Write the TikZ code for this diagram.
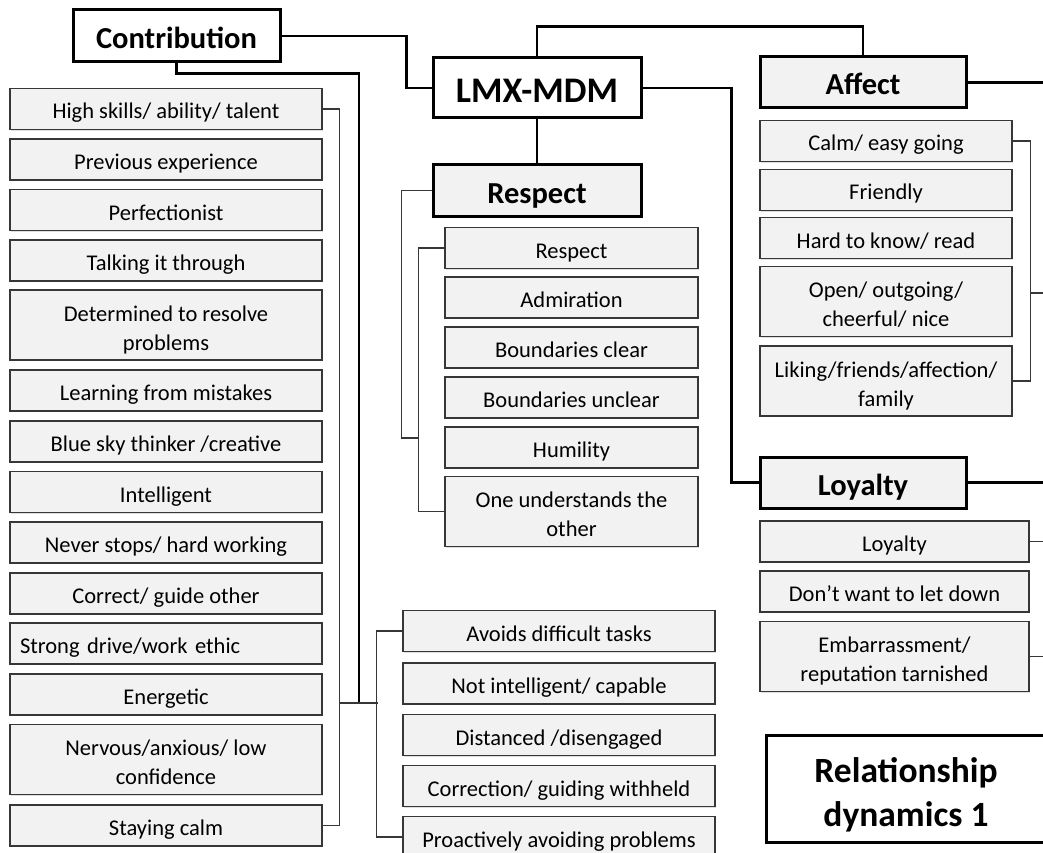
\documentclass[tikz,border=0pt]{standalone}
\usepackage{fontspec}
\setmainfont{Carlito}
\usetikzlibrary{shadows}
\definecolor{boxgray}{RGB}{242,242,242}
\definecolor{edgegray}{RGB}{55,55,55}
\begin{document}
\begin{tikzpicture}[x=1pt,y=-1pt,
  sub/.style={draw=edgegray, line width=1.4pt, fill=boxgray, inner sep=0pt,
    minimum height=41pt, align=center, font=\fontsize{22.5}{29}\selectfont,
    text height=20pt, text depth=0pt,
    drop shadow={shadow xshift=1.2pt, shadow yshift=-1.2pt, opacity=0.25}},
  csub/.style={sub, minimum width=312pt},
  rsub/.style={sub, minimum width=253pt},
  nsub/.style={sub, minimum width=312pt},
  asub/.style={sub, minimum width=252pt},
  lsub/.style={sub, minimum width=269pt},
  twoline/.style={minimum height=70pt, text height=50pt, text depth=0pt},
  head/.style={draw=black, line width=3pt, fill=boxgray, inner sep=0pt,
    minimum height=51pt, font=\fontsize{30.5}{36}\bfseries\selectfont,
    text height=25pt, text depth=0pt,
    drop shadow={shadow xshift=1.5pt, shadow yshift=-1.5pt, opacity=0.25}},
  tophead/.style={head, fill=white},
  conn/.style={line width=2.6pt, black},
  thinconn/.style={line width=1.4pt, edgegray}
]
\useasboundingbox (0,0) rectangle (1043,853);
\fill[white] (0,0) rectangle (1043,853);

% ---------- junction points ----------
\coordinate (cjoin) at (359,703);
\coordinate (tl) at (339,703);
\coordinate (tr) at (378,703);
\coordinate (rjoin) at (419,438);
\coordinate (ajoin) at (1030,293);
\coordinate (aout) at (1046,293);

% ---------- head nodes ----------
\node[tophead, minimum width=207pt, minimum height=52pt] (contrib) at (176.5,36) {Contribution};
\node[tophead, minimum width=208pt, minimum height=60pt, font=\fontsize{36}{40}\bfseries\selectfont, text height=30pt] (lmx) at (537,88) {LMX-MDM};
\node[head, minimum width=208pt] (respect) at (537,190.5) {Respect};
\node[head, minimum width=206pt] (affect) at (863,82.5) {Affect};
\node[head, minimum width=206pt] (loyalty) at (863,482.5) {Loyalty};
\node[tophead, minimum width=280pt, minimum height=107pt, align=center, font=\fontsize{35.5}{44}\bfseries\selectfont, text height=76pt] (title) at (906,788.5) {Relationship\\dynamics 1};

% ---------- Contribution children ----------
\node[csub] (c1) at (166,109) {High skills/ ability/ talent};
\node[csub] (c2) at (166,159.5) {Previous experience};
\node[csub] (c3) at (166,210) {Perfectionist};
\node[csub] (c4) at (166,260.5) {Talking it through};
\node[csub, twoline] (c5) at (166,325) {Determined to resolve\\problems};
\node[csub] (c6) at (166,390.5) {Learning from mistakes};
\node[csub] (c7) at (166,441.5) {Blue sky thinker /creative};
\node[csub] (c8) at (166,492) {Intelligent};
\node[csub] (c9) at (166,542.5) {Never stops/ hard working};
\node[csub] (c10) at (166,593.5) {Correct/ guide other};
\node[csub, text width=292pt, align=left] (c11) at (166,643.5) {Strong drive/work ethic};
\node[csub] (c12) at (166,694.5) {Energetic};
\node[csub, twoline] (c13) at (166,759.5) {Nervous/anxious/ low\\confidence};
\node[csub] (c14) at (166,825.5) {Staying calm};

% ---------- Respect children ----------
\node[rsub] (r1) at (571.5,248) {Respect};
\node[rsub] (r2) at (571.5,297.5) {Admiration};
\node[rsub] (r3) at (571.5,347.5) {Boundaries clear};
\node[rsub] (r4) at (571.5,397.5) {Boundaries unclear};
\node[rsub] (r5) at (571.5,447.5) {Humility};
\node[rsub, twoline] (r6) at (571.5,511.5) {One understands the\\other};

% ---------- lower group ----------
\node[nsub] (n1) at (559,631) {Avoids difficult tasks};
\node[nsub] (n2) at (559,683.5) {Not intelligent/ capable};
\node[nsub] (n3) at (559,735) {Distanced /disengaged};
\node[nsub] (n4) at (559,786) {Correction/ guiding withheld};
\node[nsub] (n5) at (559,837) {Proactively avoiding problems};

% ---------- Affect children ----------
\node[asub] (a1) at (886,141) {Calm/ easy going};
\node[asub] (a2) at (886,190) {Friendly};
\node[asub] (a3) at (886,238) {Hard to know/ read};
\node[asub, twoline] (a4) at (886,301.5) {Open/ outgoing/\\cheerful/ nice};
\node[asub, twoline] (a5) at (886,381) {Liking/friends/affection/\\family};

% ---------- Loyalty children ----------
\node[lsub] (l1) at (894.5,541.5) {Loyalty};
\node[lsub] (l2) at (894.5,591.5) {Don’t want to let down};
\node[lsub, twoline] (l3) at (894.5,656.5) {Embarrassment/\\reputation tarnished};

% ---------- thick connectors ----------
\draw[conn] (contrib.east) -- ++(125,0) |- (lmx.west);
\draw[conn] (lmx.north) -- ++(0,-30) -| (affect.north);
\draw[conn] (lmx.east) -- ++(89,0) |- (loyalty.west);
\draw[conn] (lmx.south) -- (respect.north);
\draw[conn] (contrib.south) -- ++(0,10) -| (cjoin);
\draw[conn] (affect.east) -- ++(80,0);
\draw[conn] (loyalty.east) -- ++(80,0);

% ---------- thin connectors ----------
\draw[thinconn] (c1.east) -- ++(17,0) |- (c14.east);
\draw[thinconn] (tl) -- (tr);
\draw[thinconn] (n1.west) -- ++(-26,0) |- (n5.west);
\draw[thinconn] (r1.west) -- ++(-26,0) |- (r6.west);
\draw[thinconn] (respect.west) -- ++(-30,0) |- (rjoin);
\draw[thinconn] (a1.east) -- ++(18,0) |- (a5.east);
\draw[thinconn] (ajoin) -- (aout);
\draw[thinconn] (l1.east) -- ++(18,0);
\draw[thinconn] (l3.east) -- ++(18,0);
\end{tikzpicture}
\end{document}
